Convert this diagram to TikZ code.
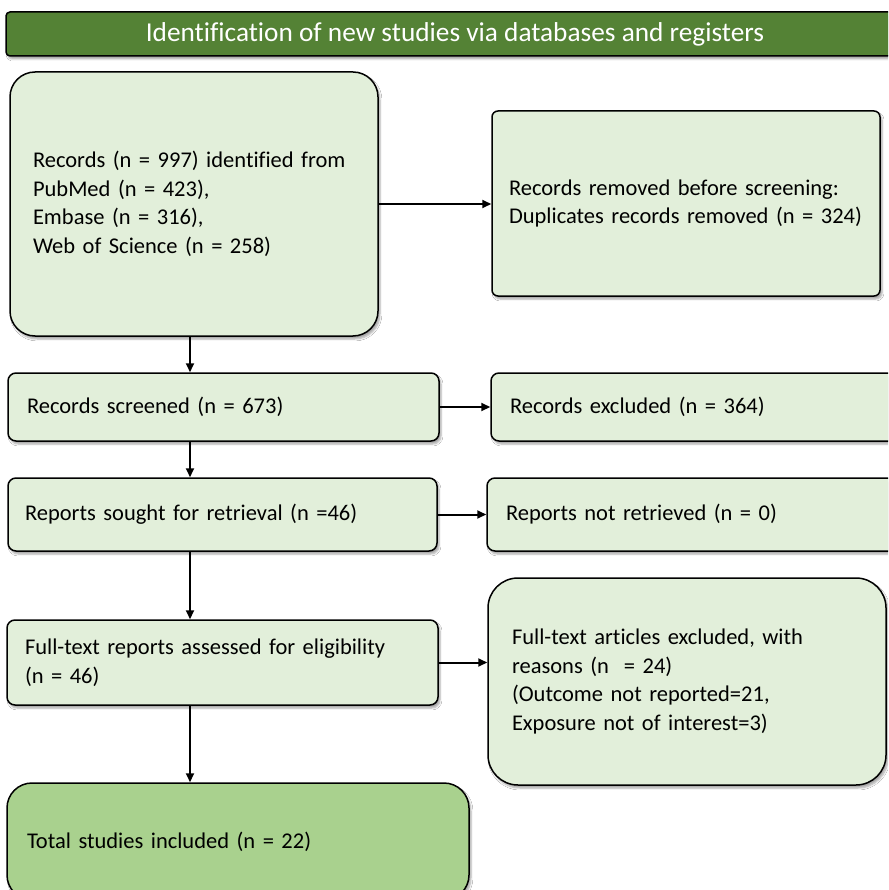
\documentclass[tikz,border=0pt]{standalone}
\usepackage{fontspec}
\setmainfont{Carlito}[Ligatures=NoCommon]
\usetikzlibrary{arrows.meta,shadows.blur}
\definecolor{lightg}{HTML}{E2EFDA}
\definecolor{midg}{HTML}{A9D18E}
\definecolor{darkg}{HTML}{548235}
\begin{document}
\begin{tikzpicture}[x=1pt,y=-1pt,
  box/.style={draw=black, line width=1.5pt, fill=lightg, inner sep=0pt, align=left,
    font=\fontsize{22.5}{28.5}\selectfont,
    blur shadow={shadow xshift=2pt, shadow yshift=-3pt, shadow blur steps=5, shadow opacity=35}},
  arr/.style={line width=2pt, -{Triangle[length=9pt,width=8pt]}}]
\useasboundingbox (0,0) rectangle (888,890);
\clip (0,0) rectangle (888,890);
\fill[white] (0,0) rectangle (888,890);

% header
\node[box, fill=darkg, rounded corners=4pt, minimum width=894pt, minimum height=44pt, align=center,
  text=white, font=\fontsize{27.3}{30}\selectfont] (hdr) at (453,34)
  {\hspace*{4pt}Identification of new studies via databases and registers};

\node[box, rounded corners=25pt, minimum width=368pt, minimum height=264pt, text width=322pt] (rec) at (194,204)
  {Records (n = 997) identified from\\PubMed (n = 423),\\Embase (n = 316),\\Web of Science (n = 258)};
\node[box, rounded corners=6pt, minimum width=388pt, minimum height=185pt, text width=354pt] (rem) at (686,203.5)
  {Records removed before screening:\\Duplicates records removed (n = 324)};

\node[box, rounded corners=8pt, minimum width=431pt, minimum height=68pt, text width=393pt] (scr) at (223.5,407)
  {Records screened (n = 673)};
\node[box, rounded corners=8pt, minimum width=409pt, minimum height=68pt, text width=371pt] (exc) at (695.5,407)
  {Records excluded (n = 364)};

\node[box, rounded corners=8pt, minimum width=429pt, minimum height=73pt, text width=395pt] (sou) at (222.5,514.5)
  {Reports sought for retrieval (n =46)};
\node[box, rounded corners=8pt, minimum width=413pt, minimum height=73pt, text width=375pt] (nrt) at (693.5,514.5)
  {Reports not retrieved (n = 0)};

\node[box, rounded corners=8pt, minimum width=431pt, minimum height=85pt, text width=395pt] (ful) at (222.5,662.5)
  {Full-text reports assessed for eligibility\\(n = 46)};
\node[box, rounded corners=30pt, minimum width=398pt, minimum height=207pt, text width=350pt] (exf) at (687,681.5)
  {Full-text articles excluded, with\\reasons (n ~= 24)\\(Outcome not reported=21,\\Exposure not of interest=3)};

\node[box, fill=midg, rounded corners=25pt, minimum width=462pt, minimum height=117pt, text width=422pt] (tot) at (238,841.5)
  {Total studies included (n = 22)};

\coordinate (sp) at (190,0);
\draw[arr] (sp |- rec.south) -- (sp |- scr.north);
\draw[arr] (sp |- scr.south) -- (sp |- sou.north);
\draw[arr] (sp |- sou.south) -- (sp |- ful.north);
\draw[arr] (sp |- ful.south) -- (sp |- tot.north);

\draw[arr] (rec.east) -- (rec.east -| rem.west);
\draw[arr] (scr.east) -- (scr.east -| exc.west);
\draw[arr] (sou.east) -- (sou.east -| nrt.west);
\draw[arr] (ful.east) -- (ful.east -| exf.west);
\end{tikzpicture}
\end{document}
